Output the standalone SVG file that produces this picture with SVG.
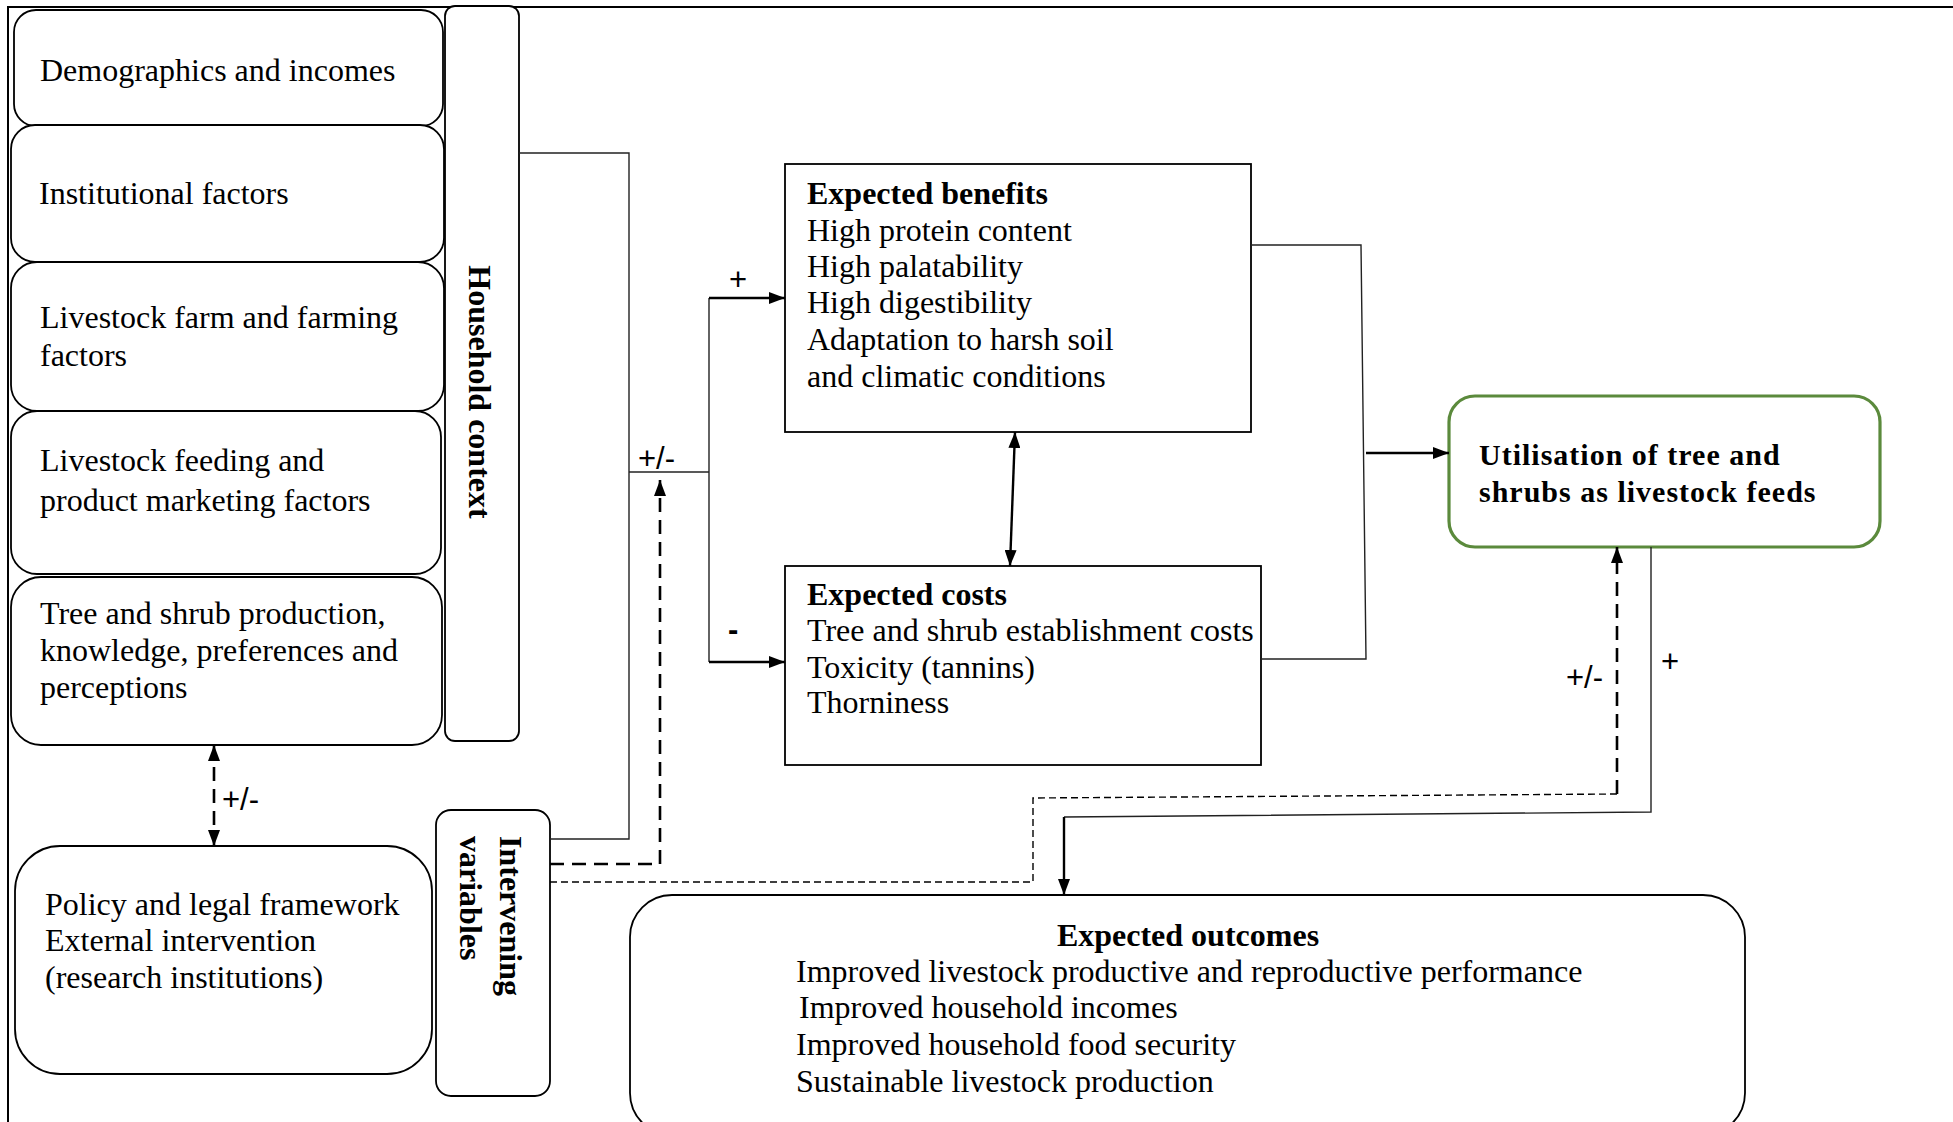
<svg xmlns="http://www.w3.org/2000/svg" width="1953" height="1122" viewBox="0 0 1953 1122">
<defs>
<style>
.t{font-family:"Liberation Serif","Times New Roman",serif;font-size:32px;fill:#000}
.b{font-weight:bold}
.s{font-family:"Liberation Sans",Arial,sans-serif;font-size:31px;fill:#000}
.box{fill:#fff;stroke:#000;stroke-width:1.8}
.ln{fill:none;stroke:#222;stroke-width:1.4}
.ar{fill:none;stroke:#000;stroke-width:2.4}
.dk{fill:none;stroke:#000;stroke-width:2.6;stroke-dasharray:14 8}
.dt{fill:none;stroke:#000;stroke-width:1.4;stroke-dasharray:7 4}
</style>
<marker id="ah" viewBox="0 0 16 12" refX="16" refY="6" markerWidth="16" markerHeight="12" markerUnits="userSpaceOnUse" orient="auto-start-reverse">
<path d="M0,0 L16,6 L0,12 z" fill="#000"/>
</marker>
</defs>
<rect width="1953" height="1122" fill="#fff"/>
<g id="frame"><path d="M8,1122 V7 H1953" fill="none" stroke="#000" stroke-width="2"/></g>

<g id="n-demographics"><rect class="box" x="14" y="10" width="429" height="116" rx="22"/><text class="t" x="40" y="81">Demographics and incomes</text></g>
<g id="n-institutional"><rect class="box" x="11" y="125" width="433" height="137" rx="24"/><text class="t" x="39" y="204">Institutional factors</text></g>
<g id="n-farm"><rect class="box" x="11" y="262" width="433" height="149" rx="26"/><text class="t" x="40" y="328">Livestock farm and farming</text><text class="t" x="40" y="366">factors</text></g>
<g id="n-feeding"><rect class="box" x="11" y="411" width="430" height="163" rx="26"/><text class="t" x="40" y="471">Livestock feeding and</text><text class="t" x="40" y="511">product marketing factors</text></g>
<g id="n-treeshrub"><rect class="box" x="11" y="577" width="431" height="168" rx="30"/><text class="t" x="40" y="624">Tree and shrub production,</text><text class="t" x="40" y="661">knowledge, preferences and</text><text class="t" x="40" y="698">perceptions</text></g>
<g id="n-household"><rect class="box" x="445" y="6" width="74" height="735" rx="10"/><text class="t b" transform="translate(469,392) rotate(90)" text-anchor="middle">Household context</text></g>
<g id="n-policy"><rect class="box" x="15" y="846" width="417" height="228" rx="45"/><text class="t" x="45" y="915">Policy and legal framework</text><text class="t" x="45" y="951">External intervention</text><text class="t" x="45" y="988">(research institutions)</text></g>
<g id="n-intervening"><rect class="box" x="436" y="810" width="114" height="286" rx="15"/><text class="t b" transform="translate(500,836) rotate(90)">Intervening</text><text class="t b" transform="translate(460,836) rotate(90)">variables</text></g>
<g id="n-benefits"><rect class="box" x="785" y="164" width="466" height="268" rx="0"/>
<text class="t b" x="807" y="204">Expected benefits</text>
<text class="t" x="807" y="241">High protein content</text>
<text class="t" x="807" y="277">High palatability</text>
<text class="t" x="807" y="313">High digestibility</text>
<text class="t" x="807" y="350">Adaptation to harsh soil</text>
<text class="t" x="807" y="387">and climatic conditions</text></g>
<g id="n-costs"><rect class="box" x="785" y="566" width="476" height="199" rx="0"/>
<text class="t b" x="807" y="605">Expected costs</text>
<text class="t" x="807" y="641">Tree and shrub establishment costs</text>
<text class="t" x="807" y="678">Toxicity (tannins)</text>
<text class="t" x="807" y="713">Thorniness</text></g>
<g id="n-utilisation"><rect x="1449" y="396" width="431" height="151" rx="26" fill="#fff" stroke="#5b8a3c" stroke-width="3.2"/>
<text class="t b" x="1479" y="465" style="letter-spacing:1px;font-size:30px">Utilisation of tree and</text>
<text class="t b" x="1479" y="502" style="letter-spacing:1px;font-size:30px">shrubs as livestock feeds</text></g>
<g id="n-outcomes"><rect class="box" x="630" y="895" width="1115" height="240" rx="42"/>
<text class="t b" x="1188" y="946" text-anchor="middle">Expected outcomes</text>
<text class="t" x="796" y="982">Improved livestock productive and reproductive performance</text>
<text class="t" x="799" y="1018">Improved household incomes</text>
<text class="t" x="796" y="1055">Improved household food security</text>
<text class="t" x="796" y="1092">Sustainable livestock production</text></g>

<g id="connectors">
<path class="ln" d="M519,153 H629 V839 H550"/>
<path class="ln" d="M629,472 H709"/>
<path class="ln" d="M709,298 V662"/>
<path class="ar" d="M709,298 H785" marker-end="url(#ah)"/>
<path class="ar" d="M709,662 H785" marker-end="url(#ah)"/>
<path class="dk" d="M550,864 H660 V480" marker-end="url(#ah)"/>
<path class="ar" d="M1015,432 L1010,566" stroke-width="2" marker-start="url(#ah)" marker-end="url(#ah)"/>
<path class="ln" d="M1251,245 H1361 L1366,659 H1261"/>
<path class="ar" d="M1366,453 H1449" marker-end="url(#ah)"/>
<path class="ln" d="M1651,547 V812 L1064,817"/>
<path class="ar" d="M1064,817 V895" stroke-width="2" marker-end="url(#ah)"/>
<path class="dt" d="M550,882 H1033 V798 L1617,794"/>
<path class="dk" d="M1617,794 V547" marker-end="url(#ah)"/>
<path class="dk" d="M214,745 V846" stroke-dasharray="12 10" marker-start="url(#ah)" marker-end="url(#ah)"/>
<text class="s" x="222" y="810">+/-</text>
<text class="s" x="638" y="469">+/-</text>
<text class="s" x="729" y="290">+</text>
<text class="s" x="728" y="640" style="font-weight:bold">-</text>
<text class="s" x="1566" y="688">+/-</text>
<text class="s" x="1661" y="672">+</text>
</g>
</svg>
